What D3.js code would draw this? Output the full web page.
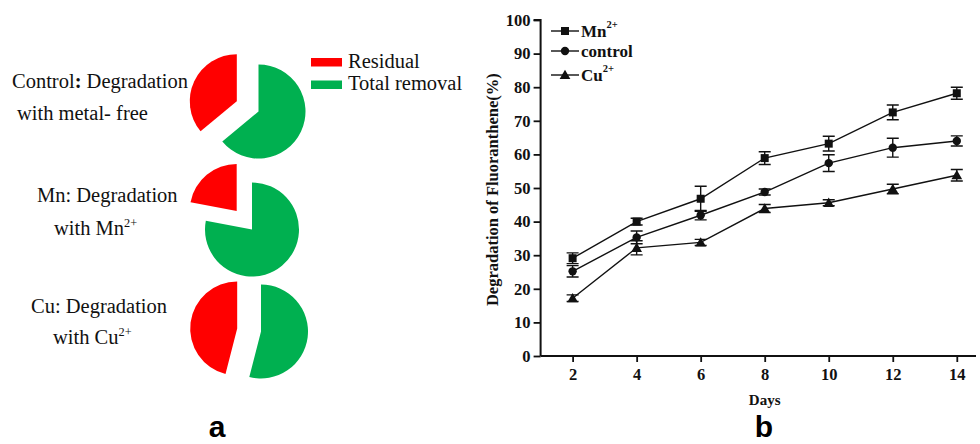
<!DOCTYPE html>
<html>
<head>
<meta charset="utf-8">
<script src="https://cdn.jsdelivr.net/npm/d3@7"></script>
<style>
html,body{margin:0;padding:0;background:#fff;}
svg{display:block;}
</style>
</head>
<body>
<svg id="chart" width="980" height="444"></svg>
<script>
// ---------- DATA ----------
const pieGroups = ["Control", "Mn", "Cu"];
const totalRemoval = [64, 78, 54];
const residual = [36, 22, 46];
const pieLegend = ["Residual", "Total removal"];

const days = [2, 4, 6, 8, 10, 12, 14];
const mnValues = [29.1, 40.0, 46.8, 58.9, 63.2, 72.5, 78.2];
const mnErrors = [1.6, 1.0, 3.7, 1.9, 2.2, 2.2, 1.8];
const controlValues = [25.2, 35.3, 41.9, 48.8, 57.4, 62.0, 64.0];
const controlErrors = [1.7, 1.9, 1.4, 0.9, 2.5, 2.8, 1.5];
const cuValues = [17.2, 32.2, 33.8, 43.9, 45.6, 49.7, 53.8];
const cuErrors = [1.0, 2.1, 0.9, 1.2, 0.9, 1.4, 1.7];
const yTicks = [0, 10, 20, 30, 40, 50, 60, 70, 80, 90, 100];
const xTicks = [2, 4, 6, 8, 10, 12, 14];

const svg = d3.select("#chart");
const RED = "#ff0000", GREEN = "#00b050";
const serif = "'Liberation Serif','Times New Roman',serif";

// ---------- PANEL A: PIES ----------
const pieCenters = [[258.5, 111.5], [252, 229.5], [261, 331.5]];
const R = 47, explode = 24;
const pie = d3.pie().sort(null).value(d => d.v);
const arc = d3.arc().innerRadius(0).outerRadius(R);

pieGroups.forEach((g, i) => {
  const arcs = pie([{k: "total", v: totalRemoval[i]}, {k: "res", v: residual[i]}]);
  const [cx, cy] = pieCenters[i];
  const gg = svg.append("g").attr("transform", `translate(${cx},${cy})`);
  arcs.forEach(a => {
    let dx = 0, dy = 0;
    if (a.data.k === "res") {
      const m = (a.startAngle + a.endAngle) / 2;
      dx = Math.sin(m) * explode; dy = -Math.cos(m) * explode;
    }
    gg.append("path").attr("d", arc(a))
      .attr("transform", `translate(${dx},${dy})`)
      .attr("fill", a.data.k === "res" ? RED : GREEN);
  });
});

// pie labels
function addText(x, y, parts, size) {
  const t = svg.append("text").attr("x", x).attr("y", y)
    .attr("font-family", serif).attr("font-size", size).attr("fill", "#111");
  parts.forEach(p => {
    if (p.sup) t.append("tspan").attr("font-size", size * 0.6).attr("dy", -size * 0.38).text(p.t);
    else if (p.b) t.append("tspan").attr("font-weight", "bold").text(p.t);
    else t.append("tspan").text(p.t);
  });
  return t;
}
const LS = 20.5;
addText(12, 88, [{t: "Control"}, {t: ":", b: true}, {t: " Degradation"}], LS);
addText(17, 120, [{t: "with metal- free"}], LS);
addText(37, 202, [{t: "Mn: Degradation"}], LS);
addText(54, 235, [{t: "with Mn"}, {t: "2+", sup: true}], LS);
addText(31, 313, [{t: "Cu: Degradation"}], LS);
addText(53, 344, [{t: "with Cu"}, {t: "2+", sup: true}], LS);

// pie legend
[[RED, 58, 67.5], [GREEN, 80.5, 89.5]].forEach((c, i) => {
  svg.append("rect").attr("x", 311).attr("y", c[1]).attr("width", 31).attr("height", 8.5).attr("fill", c[0]);
  svg.append("text").attr("x", 348).attr("y", c[2]).attr("font-family", serif)
    .attr("font-size", 20.5).attr("fill", "#111").text(pieLegend[i]);
});

svg.append("text").attr("x", 217).attr("y", 437).attr("text-anchor", "middle")
  .attr("font-family", "'Liberation Sans',Arial,sans-serif").attr("font-weight", "bold")
  .attr("font-size", 30).text("a");

// ---------- PANEL B: LINE CHART ----------
const x = d3.scaleLinear().domain([1, 14.6]).range([540.6, 976]);
const y = d3.scaleLinear().domain([0, 100]).range([356, 20]);

const yAxis = d3.axisLeft(y).tickValues(yTicks).tickSize(7).tickPadding(3);
const xAxis = d3.axisBottom(x).tickValues(xTicks).tickSize(6).tickPadding(6);

const gy = svg.append("g").attr("transform", `translate(${x(1)},0)`).call(yAxis);
const gx = svg.append("g").attr("transform", `translate(0,${y(0)})`).call(xAxis);
[gx, gy].forEach(g => {
  g.select(".domain").attr("stroke", "#111").attr("stroke-width", 2);
  g.selectAll(".tick line").attr("stroke", "#111").attr("stroke-width", 1.8);
  g.selectAll(".tick text").attr("font-family", serif).attr("font-weight", "bold")
    .attr("font-size", 16.5).attr("fill", "#111");
});
gy.select(".domain").attr("d", `M-7,${y(100)}H0V${y(0)}`);
gx.select(".domain").attr("d", `M${x(1)},0H976`);

svg.append("text").attr("transform", `translate(498,${y(49.5)}) rotate(-90)`)
  .attr("text-anchor", "middle").attr("font-family", serif).attr("font-weight", "bold")
  .attr("font-size", 16.5).attr("fill", "#111").text("Degradation of Fluoranthene(%)");
svg.append("text").attr("x", x(8)).attr("y", 405).attr("text-anchor", "middle")
  .attr("font-family", serif).attr("font-weight", "bold").attr("font-size", 15)
  .attr("fill", "#111").text("Days");
svg.append("text").attr("x", 764).attr("y", 437).attr("text-anchor", "middle")
  .attr("font-family", "'Liberation Sans',Arial,sans-serif").attr("font-weight", "bold")
  .attr("font-size", 30).text("b");

const series = [
  {name: "Mn", sup: "2+", vals: mnValues, errs: mnErrors, sym: d3.symbolSquare, size: 64},
  {name: "control", sup: "", vals: controlValues, errs: controlErrors, sym: d3.symbolCircle, size: 55},
  {name: "Cu", sup: "2+", vals: cuValues, errs: cuErrors, sym: d3.symbolTriangle, size: 50}
];
const line = d3.line().x((d, i) => x(days[i])).y(d => y(d));

series.forEach(s => {
  const g = svg.append("g");
  g.append("path").attr("d", line(s.vals)).attr("fill", "none").attr("stroke", "#111").attr("stroke-width", 1.4);
  s.vals.forEach((v, i) => {
    const cx = x(days[i]);
    const top = y(v + s.errs[i]), bot = y(v - s.errs[i]);
    g.append("path").attr("d", `M${cx},${top}V${bot}M${cx - 6},${top}H${cx + 6}M${cx - 6},${bot}H${cx + 6}`)
      .attr("stroke", "#111").attr("stroke-width", 1.4).attr("fill", "none");
    g.append("path").attr("d", d3.symbol(s.sym, s.size)())
      .attr("transform", `translate(${cx},${y(v) + (s.sym === d3.symbolTriangle ? 1 : 0)})`).attr("fill", "#111");
  });
});

// line legend
const legY = [31, 51, 75];
series.forEach((s, i) => {
  svg.append("line").attr("x1", 551).attr("x2", 579).attr("y1", legY[i]).attr("y2", legY[i])
    .attr("stroke", "#111").attr("stroke-width", 1.4);
  svg.append("path").attr("d", d3.symbol(s.sym, s.size)())
    .attr("transform", `translate(565,${legY[i] + (s.sym === d3.symbolTriangle ? 1 : 0)})`).attr("fill", "#111");
  const t = svg.append("text").attr("x", 581).attr("y", legY[i] + 5.5).attr("font-family", serif)
    .attr("font-weight", "bold").attr("font-size", 17).attr("fill", "#111");
  t.append("tspan").text(s.name);
  if (s.sup) t.append("tspan").attr("font-size", 10.5).attr("dy", -8.5).text(s.sup);
});
</script>
</body>
</html>
